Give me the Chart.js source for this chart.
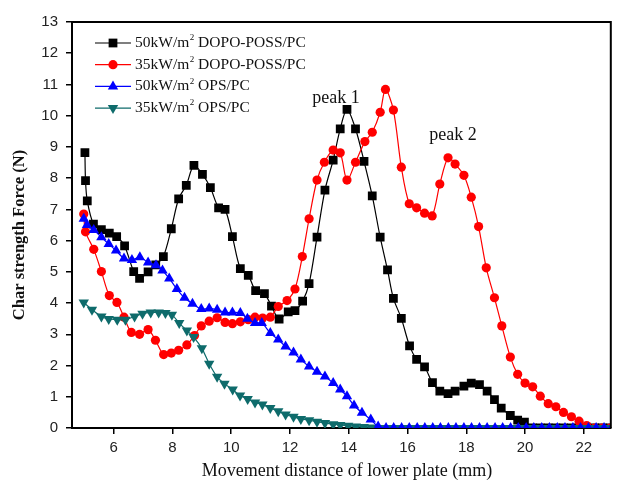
<!DOCTYPE html>
<html>
<head>
<meta charset="utf-8">
<script src="https://cdn.jsdelivr.net/npm/chart.js@4.4.1/dist/chart.umd.min.js"></script>
<style>
  html, body { margin: 0; padding: 0; background: #fff; }
  #wrap { width: 617px; height: 485px; }
</style>
</head>
<body>
<div id="wrap"><canvas id="myChart" width="617" height="485"></canvas></div>
<script>
// series: x = movement distance (mm), y = force (N)
const seriesLabels = ['50kW/m2 DOPO-POSS/PC', '35kW/m2 DOPO-POSS/PC', '50kW/m2 OPS/PC', '35kW/m2 OPS/PC'];

const blackX = [5.02, 5.04, 5.10, 5.31, 5.58, 5.85, 6.10, 6.37, 6.68, 6.88, 7.17, 7.43, 7.69, 7.96, 8.21, 8.47, 8.73, 9.02, 9.29, 9.57, 9.79, 10.04, 10.31, 10.58, 10.83, 11.13, 11.37, 11.63, 11.94, 12.17, 12.43, 12.65, 12.92, 13.19, 13.47, 13.71, 13.94, 14.23, 14.52, 14.80, 15.07, 15.32, 15.52, 15.79, 16.07, 16.31, 16.58, 16.85, 17.10, 17.38, 17.62, 17.92, 18.17, 18.45, 18.71, 18.96, 19.19, 19.50, 19.75, 19.98, 20.25, 20.52, 20.79, 21.05, 21.31, 21.58, 21.84, 22.10, 22.37, 22.63, 22.90];
const blackY = [8.82, 7.92, 7.27, 6.53, 6.35, 6.24, 6.13, 5.83, 5.01, 4.79, 5.00, 5.22, 5.49, 6.38, 7.34, 7.77, 8.41, 8.12, 7.70, 7.05, 7.00, 6.13, 5.10, 4.89, 4.40, 4.30, 3.90, 3.49, 3.72, 3.76, 4.06, 4.62, 6.11, 7.62, 8.58, 9.58, 10.20, 9.58, 8.54, 7.43, 6.11, 5.06, 4.15, 3.51, 2.63, 2.20, 1.96, 1.45, 1.18, 1.10, 1.18, 1.34, 1.44, 1.39, 1.18, 0.91, 0.64, 0.40, 0.25, 0.19, 0, 0, 0, 0, 0, 0, 0, 0, 0, 0, 0];

const redX = [4.98, 5.04, 5.32, 5.58, 5.85, 6.11, 6.35, 6.60, 6.88, 7.17, 7.42, 7.70, 7.96, 8.21, 8.49, 8.75, 8.98, 9.25, 9.52, 9.79, 10.04, 10.31, 10.58, 10.81, 11.07, 11.33, 11.60, 11.90, 12.17, 12.42, 12.65, 12.92, 13.17, 13.47, 13.71, 13.94, 14.23, 14.55, 14.80, 15.07, 15.25, 15.52, 15.79, 16.06, 16.31, 16.58, 16.84, 17.10, 17.38, 17.62, 17.92, 18.17, 18.42, 18.68, 18.96, 19.21, 19.50, 19.75, 20.00, 20.26, 20.52, 20.79, 21.05, 21.31, 21.58, 21.84, 22.10, 22.37, 22.63, 22.90];
const redY = [6.85, 6.28, 5.72, 5.01, 4.24, 4.02, 3.55, 3.06, 3.00, 3.15, 2.81, 2.35, 2.40, 2.49, 2.66, 2.96, 3.27, 3.42, 3.53, 3.38, 3.34, 3.40, 3.47, 3.55, 3.52, 3.55, 3.89, 4.08, 4.45, 5.49, 6.70, 7.94, 8.51, 8.90, 8.81, 7.94, 8.51, 9.17, 9.47, 10.11, 10.84, 10.18, 8.35, 7.18, 7.05, 6.88, 6.79, 7.81, 8.65, 8.45, 8.09, 7.39, 6.45, 5.13, 4.17, 3.27, 2.27, 1.72, 1.44, 1.32, 1.02, 0.78, 0.68, 0.50, 0.36, 0.22, 0.08, 0, 0, 0];

const blueX = [4.98, 5.09, 5.32, 5.58, 5.83, 6.08, 6.35, 6.62, 6.89, 7.17, 7.44, 7.66, 7.89, 8.15, 8.41, 8.68, 8.98, 9.25, 9.52, 9.79, 10.04, 10.31, 10.55, 10.81, 11.04, 11.33, 11.60, 11.85, 12.12, 12.37, 12.65, 12.92, 13.19, 13.47, 13.71, 13.94, 14.18, 14.45, 14.75, 15.00, 15.27, 15.53, 15.80, 16.06, 16.33, 16.59, 16.86, 17.12, 17.39, 17.65, 17.92, 18.18, 18.45, 18.71, 18.98, 19.24, 19.51, 19.77, 20.04, 20.30, 20.57, 20.83, 21.10, 21.36, 21.63, 21.89, 22.16, 22.42, 22.69, 22.95];
const blueY = [6.70, 6.50, 6.34, 6.11, 5.89, 5.68, 5.43, 5.38, 5.47, 5.30, 5.21, 5.04, 4.79, 4.45, 4.17, 3.98, 3.81, 3.83, 3.79, 3.70, 3.70, 3.68, 3.50, 3.36, 3.36, 3.04, 2.83, 2.61, 2.42, 2.19, 1.97, 1.80, 1.65, 1.44, 1.23, 1.02, 0.72, 0.49, 0.27, 0.05, 0, 0, 0, 0, 0, 0, 0, 0, 0, 0, 0, 0, 0, 0, 0, 0, 0, 0, 0, 0, 0, 0, 0, 0, 0, 0, 0, 0, 0, 0];

const tealX = [4.98, 5.26, 5.58, 5.83, 6.12, 6.40, 6.71, 6.98, 7.26, 7.53, 7.76, 7.98, 8.23, 8.49, 8.72, 9.00, 9.25, 9.52, 9.77, 10.05, 10.30, 10.56, 10.81, 11.06, 11.33, 11.60, 11.85, 12.12, 12.37, 12.65, 12.92, 13.19, 13.47, 13.71, 13.98, 14.24, 14.51, 14.77, 15.04, 15.30, 15.57, 15.83, 16.10, 16.36, 16.63, 16.89, 17.16, 17.42, 17.69, 17.95, 18.22, 18.48, 18.75, 19.01, 19.28, 19.54, 19.81, 20.07, 20.34, 20.60, 20.87, 21.13, 21.40, 21.66, 21.93, 22.19, 22.46, 22.72, 22.98];
const tealY = [4.02, 3.79, 3.57, 3.49, 3.47, 3.47, 3.57, 3.66, 3.70, 3.70, 3.68, 3.63, 3.36, 3.12, 2.91, 2.55, 2.06, 1.64, 1.42, 1.23, 1.04, 0.93, 0.82, 0.75, 0.64, 0.54, 0.43, 0.36, 0.29, 0.25, 0.20, 0.16, 0.12, 0.10, 0.07, 0.05, 0.03, 0.02, 0, 0, 0, 0, 0, 0, 0, 0, 0, 0, 0, 0, 0, 0, 0, 0, 0, 0, 0, 0, 0, 0, 0, 0, 0, 0, 0, 0, 0, 0, 0];

const xTicks = [6, 8, 10, 12, 14, 16, 18, 20, 22];
const yTicks = [0, 1, 2, 3, 4, 5, 6, 7, 8, 9, 10, 11, 12, 13];

const peaks = [
    { text: 'peak 1', x: 13.57, y: 10.55 },
    { text: 'peak 2', x: 17.55, y: 9.37 }
];

const colores = ['#000000', '#ff0000', '#0000ff', '#0e6b6b'];
const estilos = ['rect', 'circle', 'triangle', 'triangle'];
const giros = [0, 0, 0, 180];
const radios = [6.2, 4.6, 6.0, 6.0];
const ordenes = [4, 3, 1, 2];

function toPoints(xs, ys) {
    return xs.map((x, i) => ({ x: x, y: ys[i] }));
}

const serif = '"Liberation Serif", "Times New Roman", serif';
const sans = '"Liberation Sans", Arial, sans-serif';

function drawMarker(ctx, style, x, y, r, rot, color) {
    ctx.save();
    ctx.fillStyle = color;
    ctx.translate(x, y);
    ctx.rotate(rot * Math.PI / 180);
    ctx.beginPath();
    if (style === 'rect') {
        const s = r * Math.SQRT1_2;
        ctx.rect(-s, -s, 2 * s, 2 * s);
    } else if (style === 'circle') {
        ctx.arc(0, 0, r, 0, Math.PI * 2);
    } else {
        const h = r * 1.5, w = r * Math.sqrt(3);
        ctx.moveTo(0, -r);
        ctx.lineTo(w / 2, -r + h);
        ctx.lineTo(-w / 2, -r + h);
        ctx.closePath();
    }
    ctx.fill();
    ctx.restore();
}

// frame, legend, peak labels and axis titles
const extras = {
    id: 'extras',
    afterDraw(chart) {
        const ctx = chart.ctx;
        const a = chart.chartArea;
        const xs = chart.scales.x, ys = chart.scales.y;
        ctx.save();
        ctx.strokeStyle = '#000';
        ctx.lineWidth = 2;
        ctx.beginPath();
        ctx.moveTo(a.left, a.top);
        ctx.lineTo(a.right, a.top);
        ctx.lineTo(a.right, a.bottom);
        ctx.stroke();

        // legend
        chart.data.datasets.forEach((ds, i) => {
            const y = 43 + i * 21.7;
            ctx.strokeStyle = ds.borderColor;
            ctx.lineWidth = 1.2;
            ctx.beginPath();
            ctx.moveTo(95, y);
            ctx.lineTo(131, y);
            ctx.stroke();
            drawMarker(ctx, estilos[i], 113, y, radios[i], giros[i], ds.borderColor);
            const parts = seriesLabels[i].split('m2');
            ctx.fillStyle = '#111';
            ctx.textBaseline = 'middle';
            ctx.textAlign = 'left';
            ctx.font = '15.5px ' + serif;
            let tx = 135;
            ctx.fillText(parts[0] + 'm', tx, y);
            tx += ctx.measureText(parts[0] + 'm').width;
            ctx.font = '9px ' + serif;
            ctx.fillText('2', tx + 0.5, y - 5);
            tx += ctx.measureText('2').width + 0.5;
            ctx.font = '15.5px ' + serif;
            ctx.fillText(parts[1], tx, y);
        });

        // peak labels
        ctx.fillStyle = '#111';
        ctx.font = '18px ' + serif;
        ctx.textAlign = 'center';
        ctx.textBaseline = 'middle';
        peaks.forEach(p => {
            ctx.fillText(p.text, xs.getPixelForValue(p.x), ys.getPixelForValue(p.y));
        });

        // axis titles
        ctx.font = '18px ' + serif;
        ctx.fillText('Movement distance of lower plate (mm)', 347, 471);
        ctx.save();
        ctx.translate(20, 235);
        ctx.rotate(-Math.PI / 2);
        ctx.font = 'bold 16.5px ' + serif;
        ctx.fillText('Char strength Force (N)', 0, 0);
        ctx.restore();
        ctx.restore();
    }
};

const ctx = document.getElementById('myChart').getContext('2d');
const myChart = new Chart(ctx, {
    type: 'line',
    data: {
        datasets: [
            { label: seriesLabels[0], data: toPoints(blackX, blackY) },
            { label: seriesLabels[1], data: toPoints(redX, redY) },
            { label: seriesLabels[2], data: toPoints(blueX, blueY) },
            { label: seriesLabels[3], data: toPoints(tealX, tealY) }
        ].map((ds, i) => Object.assign(ds, {
            borderColor: colores[i],
            backgroundColor: colores[i],
            borderWidth: 1.2,
            pointStyle: estilos[i],
            rotation: giros[i],
            pointRadius: radios[i],
            pointBorderWidth: 0,
            pointHoverRadius: radios[i],
            tension: 0.3,
            order: ordenes[i]
        }))
    },
    options: {
        responsive: false,
        animation: false,
        layout: { padding: { top: 22, right: 2, left: 0, bottom: 0 } },
        plugins: {
            legend: { display: false },
            tooltip: { enabled: false }
        },
        scales: {
            x: {
                type: 'linear',
                position: 'bottom',
                min: 4.58,
                max: 22.92,
                afterBuildTicks: scale => { scale.ticks = xTicks.map(v => ({ value: v })); },
                afterFit: scale => { scale.height = 57; },
                border: { color: '#000', width: 2 },
                grid: { drawOnChartArea: false, drawTicks: true, tickLength: 6, color: '#000', lineWidth: 1.5 },
                ticks: { color: '#222', font: { family: sans, size: 15 }, padding: 5, maxRotation: 0 }
            },
            y: {
                min: 0,
                max: 13,
                afterBuildTicks: scale => { scale.ticks = yTicks.map(v => ({ value: v })); },
                afterFit: scale => { scale.width = 72; },
                border: { color: '#000', width: 2 },
                grid: { drawOnChartArea: false, drawTicks: true, tickLength: 6, color: '#000', lineWidth: 1.5 },
                ticks: { color: '#222', font: { family: sans, size: 15 }, padding: 8 }
            }
        }
    },
    plugins: [extras]
});
</script>
</body>
</html>
